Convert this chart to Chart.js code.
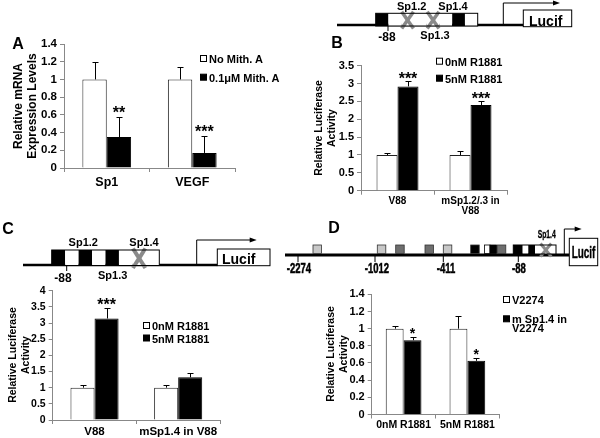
<!DOCTYPE html>
<html>
<head>
<meta charset="utf-8">
<script src="https://cdn.jsdelivr.net/npm/chart.js@4.4.0/dist/chart.umd.min.js"></script>
<style>
  body { margin: 0; background: #fff; }
  #fig { position: relative; width: 600px; height: 438px; overflow: hidden; }
  #fig canvas, #fig svg { position: absolute; }
  #art { left: 0; top: 0; pointer-events: none; }
</style>
</head>
<body>
<div id="fig">
  <canvas id="chartA" width="300" height="200" style="left:0;top:0"></canvas>
  <canvas id="chartB" width="300" height="180" style="left:300px;top:45px"></canvas>
  <canvas id="chartC" width="300" height="168" style="left:0;top:270px"></canvas>
  <canvas id="chartD" width="300" height="164" style="left:300px;top:274px"></canvas>
  <svg id="art" width="600" height="438"></svg>
</div>
<script>
const FONT = '"Liberation Sans", Arial, Helvetica, sans-serif';

// --- data ---
// A: mRNA after mithramycin A
const catsA = ['Sp1', 'VEGF'];
const noMithA = [1.0, 1.0];
const noMithErrA = [0.20, 0.14];
const mithA = [0.35, 0.17];
const mithErrA = [0.23, 0.19];
const starsA = ['**', '***'];
const ticksA = [0, 0.2, 0.4, 0.6, 0.8, 1, 1.2, 1.4];

// B: V88 vs mSp1.2/.3
const catsB = ['V88', ['mSp1.2/.3 in', 'V88']];
const r0B = [1.0, 1.0];
const r0ErrB = [0.05, 0.12];
const r5B = [2.92, 2.40];
const r5ErrB = [0.15, 0.10];
const starsB = ['***', '***'];
const ticksB = [0, 0.5, 1, 1.5, 2, 2.5, 3, 3.5];

// C: V88 vs mSp1.4
const catsC = ['V88', 'mSp1.4 in V88'];
const r0C = [1.0, 1.0];
const r0ErrC = [0.09, 0.09];
const r5C = [3.14, 1.32];
const r5ErrC = [0.33, 0.12];
const starsC = ['***', ''];
const ticksC = [0, 0.5, 1, 1.5, 2, 2.5, 3, 3.5, 4];

// D: V2274 vs mSp1.4 in V2274
const catsD = ['0nM R1881', '5nM R1881'];
const wtD = [1.0, 1.0];
const wtErrD = [0.035, 0.15];
const mutD = [0.865, 0.625];
const mutErrD = [0.035, 0.03];
const starsD = ['*', '*'];
const ticksD = [0, 0.2, 0.4, 0.6, 0.8, 1, 1.2, 1.4];

// --- error bars + significance stars ---
const errorBars = {
  id: 'errorBars',
  afterDatasetsDraw(chart, args, opts) {
    const ctx = chart.ctx, y = chart.scales.y;
    ctx.save();
    ctx.strokeStyle = '#000';
    ctx.fillStyle = '#000';
    ctx.lineWidth = 1;
    ctx.textAlign = 'center';
    ctx.textBaseline = 'alphabetic';
    ctx.font = opts.font;
    chart.data.datasets.forEach((ds, d) => {
      chart.getDatasetMeta(d).data.forEach((bar, i) => {
        const x = Math.round(bar.x) + 0.5;
        const top = Math.round(y.getPixelForValue(ds.data[i] + ds.err[i])) + 0.5;
        ctx.beginPath();
        ctx.moveTo(x, bar.y);
        ctx.lineTo(x, top);
        ctx.moveTo(x - 3, top);
        ctx.lineTo(x + 3, top);
        ctx.stroke();
        if (ds.stars && ds.stars[i]) ctx.fillText(ds.stars[i], bar.x, top + opts.gap);
      });
    });
    ctx.restore();
  }
};

function barChart(id, c) {
  return new Chart(document.getElementById(id), {
    type: 'bar',
    data: {
      labels: c.labels,
      datasets: [
        {data: c.white, err: c.whiteErr, backgroundColor: '#fff', borderColor: '#222', borderWidth: 1},
        {data: c.black, err: c.blackErr, stars: c.stars, backgroundColor: '#000', borderColor: '#000', borderWidth: 1}
      ]
    },
    options: {
      responsive: false,
      animation: false,
      events: [],
      layout: {padding: c.pad},
      datasets: {bar: {categoryPercentage: c.cat, barPercentage: 1}},
      plugins: {
        legend: {display: false},
        tooltip: {enabled: false},
        errorBars: {gap: c.starGap, font: 'bold ' + c.starSize + 'px ' + FONT}
      },
      scales: {
        x: {
          ticks: {color: '#000', font: {family: FONT, weight: 'bold', size: c.xSize, lineHeight: c.xLine || 1.2},
                  padding: c.xPad, maxRotation: 0, autoSkip: false},
          grid: {drawOnChartArea: false, tickLength: 4, color: '#888'},
          border: {color: '#888'},
          afterFit: s => { s.height = c.xH; }
        },
        y: {
          min: 0,
          max: c.ticks[c.ticks.length - 1],
          afterBuildTicks: s => { s.ticks = c.ticks.map(v => ({value: v})); },
          ticks: {color: '#000', font: {family: FONT, weight: 'bold', size: c.ySize}, padding: 3,
                  callback: v => String(v)},
          grid: {drawOnChartArea: false, tickLength: 4, color: '#888'},
          border: {color: '#888'},
          afterFit: s => { s.width = 40; }
        }
      }
    },
    plugins: [errorBars]
  });
}

barChart('chartA', {labels: catsA, white: noMithA, whiteErr: noMithErrA, black: mithA, blackErr: mithErrA,
  stars: starsA, ticks: ticksA, pad: {left: 24, right: 65, top: 44, bottom: 6}, cat: 0.57,
  xH: 26, xSize: 12.5, xPad: 3, ySize: 11.5, starSize: 16, starGap: 0.3});

barChart('chartB', {labels: catsB, white: r0B, whiteErr: r0ErrB, black: r5B, blackErr: r5ErrB,
  stars: starsB, ticks: ticksB, pad: {left: 21, right: 93, top: 20.7, bottom: 4.3}, cat: 0.575,
  xH: 30, xSize: 10, xLine: 1.05, xPad: 1, ySize: 11, starSize: 16, starGap: 2.5});

barChart('chartC', {labels: catsC, white: r0C, whiteErr: r0ErrC, black: r5C, blackErr: r5ErrC,
  stars: starsC, ticks: ticksC, pad: {left: 12.7, right: 80, top: 20.7, bottom: 0}, cat: 0.575,
  xH: 18, xSize: 11.5, xPad: 1, ySize: 10.5, starSize: 16, starGap: 1.5});

barChart('chartD', {labels: catsD, white: wtD, whiteErr: wtErrD, black: mutD, blackErr: mutErrD,
  stars: starsD, ticks: ticksD, pad: {left: 31.7, right: 100.7, top: 20.3, bottom: 5.5}, cat: 0.56,
  xH: 18, xSize: 10.5, xPad: 0, ySize: 11, starSize: 14, starGap: 0.3});

// --- promoter diagrams, legends, titles ---
const NS = 'http://www.w3.org/2000/svg';
const svg = document.getElementById('art');
function add(tag, attrs, txt) {
  const e = document.createElementNS(NS, tag);
  for (const k in attrs) e.setAttribute(k, attrs[k]);
  if (txt != null) e.textContent = txt;
  svg.appendChild(e);
  return e;
}
function line(x1, y1, x2, y2, w, col) {
  add('line', {x1, y1, x2, y2, stroke: col || '#000', 'stroke-width': w || 1});
}
function rect(x, y, w, h, fill, stroke, sw) {
  add('rect', {x, y, width: w, height: h, fill, stroke: stroke || 'none', 'stroke-width': sw || 1});
}
function text(x, y, s, size, o) {
  o = o || {};
  const a = {'font-family': FONT, 'font-weight': 'bold', 'font-size': size,
             'text-anchor': o.anchor || 'middle', 'dominant-baseline': 'central', fill: '#000'};
  if (o.sx) { a.transform = `translate(${x},${y}) scale(${o.sx},1)`; a.x = 0; a.y = 0; }
  else if (o.rot) { a.transform = `rotate(-90 ${x} ${y})`; a.x = x; a.y = y; }
  else { a.x = x; a.y = y; }
  if (o.stroke) { a.stroke = '#000'; a['stroke-width'] = o.stroke; }
  add('text', a, s);
}
function cross(x0, y0, x1, y1, w) {
  line(x0, y0, x1, y1, w, '#8a8a8a');
  line(x1, y0, x0, y1, w, '#8a8a8a');
}
function arrow(x, yb, yt, xe) {
  add('polyline', {points: `${x},${yb} ${x},${yt} ${xe - 5},${yt}`, fill: 'none', stroke: '#000', 'stroke-width': 1});
  add('polygon', {points: `${xe},${yt} ${xe - 7},${yt - 2.5} ${xe - 7},${yt + 2.5}`, fill: '#000'});
}
// b = site (black), w = spacer, x = mutated site
function sites(x0, x1, y0, y1, pattern, widths, cw) {
  const n = pattern.length;
  let x = x0;
  for (let i = 0; i < n; i++) {
    const w = widths ? widths[i] : (x1 - x0) / n;
    rect(x, y0, w, y1 - y0, pattern[i] === 'b' ? '#000' : '#fff');
    if (pattern[i] === 'x') cross(x + 0.5, y0 - 1.5, x + w - 0.5, y1 + 2.5, cw);
    x += w;
  }
  rect(x0, y0, x1 - x0, y1 - y0, 'none', '#000', 1);
}
function legend(x, items, size) {
  items.forEach(it => {
    rect(x + 0.5, it.y - 3.5, 6, 6, it.fill, '#000', 1);
    it.lines.forEach((s, k) => text(x + 9, it.y + k * 9, s, size, {anchor: 'start'}));
  });
}

// panel letters
text(18, 43, 'A', 16);
text(337, 42, 'B', 16);
text(8, 228, 'C', 16);
text(334, 227, 'D', 16);

// axis titles
text(18, 106, 'Relative mRNA', 12, {rot: true});
text(32, 106, 'Expression Levels', 12, {rot: true});
text(318, 128, 'Relative Luciferase', 10.5, {rot: true});
text(331, 128, 'Activity', 10.5, {rot: true});
text(12, 355, 'Relative Luciferase', 10.5, {rot: true});
text(25, 355, 'Activity', 10.5, {rot: true});
text(330, 354, 'Relative Luciferase', 10.5, {rot: true});
text(343.3, 354, 'Activity', 10.5, {rot: true});

// legends
legend(200, [{y: 59, fill: '#fff', lines: ['No Mith. A']}, {y: 77.7, fill: '#000', lines: ['0.1\u03bcM Mith. A']}], 11);
legend(436, [{y: 61.7, fill: '#fff', lines: ['0nM R1881']}, {y: 78.7, fill: '#000', lines: ['5nM R1881']}], 11);
legend(143, [{y: 326, fill: '#fff', lines: ['0nM R1881']}, {y: 338.5, fill: '#000', lines: ['5nM R1881']}], 11);
legend(503, [{y: 300, fill: '#fff', lines: ['V2274']}, {y: 319.3, fill: '#000', lines: ['m Sp1.4 in', 'V2274']}], 11);

// B promoter (mSp1.2/.3)
line(337, 25, 523.3, 25, 2.5);
sites(375.7, 477.7, 13.3, 26, 'bwxwxwbw', null, 3.5);
rect(523.3, 10, 48.4, 16.7, '#fff', '#000', 1);
text(529, 20.5, 'Lucif', 14, {anchor: 'start'});
arrow(503.3, 25, 3, 560);
line(388, 26, 388, 31, 1);
text(387, 36.5, '-88', 12);
text(411.7, 6, 'Sp1.2', 11);
text(453, 6, 'Sp1.4', 11);
text(435, 34.7, 'Sp1.3', 11);

// C promoter (mSp1.4)
line(23, 265, 217.3, 265, 2.5);
sites(51.7, 159.3, 250, 265.5, 'bwbwbwxw', null, 4);
rect(217.3, 249, 52.7, 16.7, '#fff', '#000', 1);
text(222, 259, 'Lucif', 14, {anchor: 'start'});
arrow(196.7, 265, 240, 256.7);
line(66.7, 266, 66.7, 271, 1);
text(63, 278, '-88', 12);
text(83.3, 242.3, 'Sp1.2', 11);
text(144, 242.3, 'Sp1.4', 11);
text(112.7, 275, 'Sp1.3', 11);

// D promoter (full-length V2274)
line(285, 255, 569.3, 255, 3);
const smallBoxes = [[313, '#c8c8c8'], [377.3, '#c8c8c8'], [395.7, '#6e6e6e'], [425, '#6e6e6e'],
                    [443.3, '#c8c8c8'], [470.7, '#000'], [497.3, '#6e6e6e']];
smallBoxes.forEach(b => rect(b[0], 245, 8.5, 8.5, b[1], '#333', 0.8));
rect(484.5, 245, 5.5, 8.5, '#fff', '#000', 0.8);
rect(490, 245, 6.5, 8.5, '#000', '#000', 0.8);
sites(513.3, 556, 245, 254, 'bwbwxw', [9.4, 5.6, 6.7, 5, 11.7, 4.3], 3);
rect(569.3, 238.3, 28.4, 27.4, '#fff', '#000', 1);
text(583.5, 252.5, 'Lucif', 16, {sx: 0.62, stroke: 0.4});
arrow(564.3, 255, 229, 581.7);
text(546.7, 234, 'Sp1.4', 10, {sx: 0.68, stroke: 0.3});
[298, 375, 443.3, 518.3].forEach(x => line(x, 256, x, 262, 1));
text(299, 268.3, '-2274', 14, {sx: 0.68, stroke: 0.5});
text(377, 268.3, '-1012', 14, {sx: 0.68, stroke: 0.5});
text(446, 268.3, '-411', 14, {sx: 0.68, stroke: 0.5});
text(519, 268.3, '-88', 14, {sx: 0.68, stroke: 0.5});
</script>
</body>
</html>
